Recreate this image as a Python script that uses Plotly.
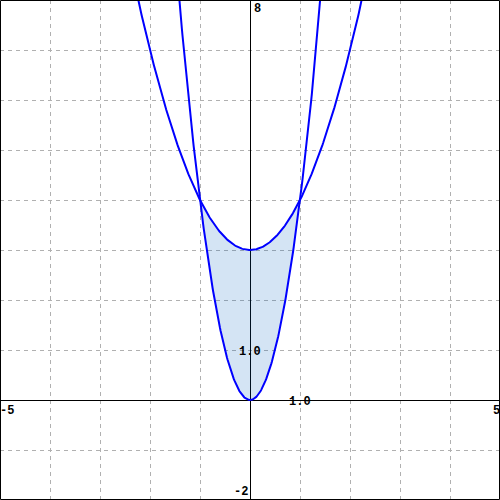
import numpy as np
import plotly.graph_objects as go

# Chart content
x_range = [-5, 5]
y_range = [-2, 8]
wide_coeffs = [1, 0, 3]     # y = x^2 + 3
narrow_coeffs = [4, 0, 0]   # y = 4x^2
region_bounds = [-1, 1]
tick_labels = ["8", "-2", "-5", "5", "1.0", "1.0"]
tick_label_pos = [(0, 8), (0, -2), (-5, 0), (5, 0), (0, 1), (1, 0)]

xs = np.linspace(x_range[0], x_range[1], 801)
wide = np.polyval(wide_coeffs, xs)
narrow = np.polyval(narrow_coeffs, xs)
xr = np.linspace(region_bounds[0], region_bounds[1], 201)
upper = np.polyval(wide_coeffs, xr)
lower = np.polyval(narrow_coeffs, xr)

fig = go.Figure()
fig.add_trace(go.Scatter(
    x=np.concatenate([xr, xr[::-1]]),
    y=np.concatenate([upper, lower[::-1]]),
    fill="toself", fillcolor="rgba(0,95,190,0.17)",
    line=dict(width=0), mode="lines", hoverinfo="skip"))
fig.add_trace(go.Scatter(x=xs, y=wide, mode="lines", line=dict(color="#0000ff", width=2)))
fig.add_trace(go.Scatter(x=xs, y=narrow, mode="lines", line=dict(color="#0000ff", width=2)))

font = dict(family="Liberation Mono", size=12, color="black")
anchors = [("left", "top", 3, -1), ("right", "bottom", -1, 0), ("left", "top", -1, -3),
           ("right", "top", 1, -3), ("center", "middle", 0, -2), ("center", "middle", 0, -2)]
for label, (px, py), (xa, ya, dx, dy) in zip(tick_labels, tick_label_pos, anchors):
    fig.add_annotation(x=px, y=py, text="<b>" + label + "</b>", showarrow=False,
                       xanchor=xa, yanchor=ya, xshift=dx, yshift=dy, font=font,
                       borderpad=0)

axis_common = dict(showgrid=True, gridcolor="#b0b0b0", griddash="4px,4px", gridwidth=1,
                   zeroline=True, zerolinecolor="black", zerolinewidth=1,
                   showticklabels=False, ticks="", dtick=1, showline=False, fixedrange=True)
fig.update_xaxes(range=x_range, **axis_common)
fig.update_yaxes(range=y_range, **axis_common)

fig.add_shape(type="rect", xref="paper", yref="paper", x0=0.001, x1=0.999, y0=0.001, y1=0.999,
              line=dict(color="black", width=1), layer="above")

fig.update_layout(width=500, height=500, margin=dict(l=0, r=0, t=0, b=0, pad=0),
                  plot_bgcolor="white", paper_bgcolor="white", showlegend=False)

fig.write_html("out.html", config={"displayModeBar": False},
               post_script="document.body.style.margin='0';")
